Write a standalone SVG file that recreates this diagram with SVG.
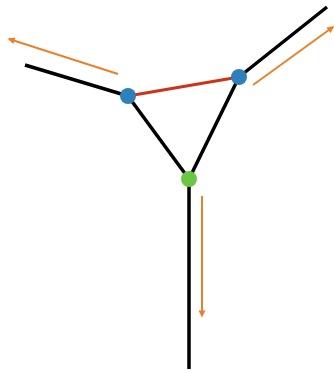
<svg xmlns="http://www.w3.org/2000/svg" width="334" height="373" viewBox="0 0 334 373">
<defs>
<style>
.blk{stroke:#000;stroke-width:3.5;fill:none;stroke-linecap:butt}
.red{stroke:#cc3318;stroke-width:3;fill:none}
.arr{stroke:#e8812c;stroke-width:2;fill:none}
</style>
<marker id="ah" viewBox="0 0 10 10" refX="8" refY="5" markerWidth="8" markerHeight="7" orient="auto" markerUnits="userSpaceOnUse">
<path d="M0,0 L10,5 L0,10 z" fill="#e8812c"/>
</marker>
</defs>
<rect width="334" height="373" fill="#fff"/>
<g id="connectors">
<line class="blk" x1="25" y1="65" x2="128" y2="96"/>
<line class="blk" x1="239" y1="77" x2="327" y2="7"/>
<line class="blk" x1="128" y1="96" x2="189" y2="179"/>
<line class="blk" x1="239" y1="77" x2="189" y2="179"/>
<line class="blk" x1="189" y1="179" x2="189" y2="369"/>
<line class="red" x1="128" y1="96" x2="239" y2="77"/>
<line class="arr" x1="118" y1="74" x2="9" y2="39" marker-end="url(#ah)"/>
<line class="arr" x1="253" y1="85" x2="333" y2="27" marker-end="url(#ah)"/>
<line class="arr" x1="202" y1="196" x2="202" y2="316" marker-end="url(#ah)"/>
</g>
<g id="node-left"><circle cx="128" cy="96" r="8" fill="#2f7fb8"/></g>
<g id="node-right"><circle cx="239" cy="77" r="8" fill="#2f7fb8"/></g>
<g id="node-bottom"><circle cx="189" cy="179" r="8" fill="#6cc644"/></g>
</svg>
